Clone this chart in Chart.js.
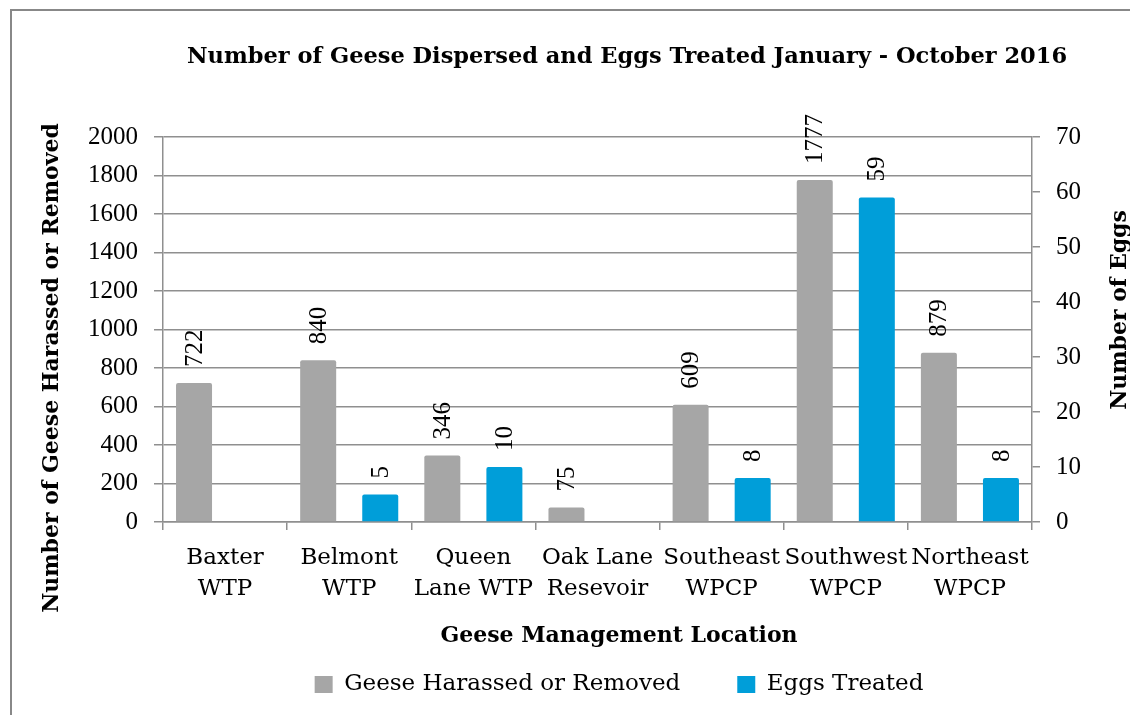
<!DOCTYPE html>
<html>
<head>
<meta charset="utf-8">
<script src="https://cdn.jsdelivr.net/npm/chart.js@4.4.1/dist/chart.umd.min.js"></script>
<style>
  html, body { margin:0; padding:0; background:#fff; }
  #wrap { position:relative; width:1130px; height:715px; overflow:hidden; }
  #frame { position:absolute; left:10px; top:9px; width:1200px; height:800px; border-top:2px solid #888; border-left:2px solid #888; }
  canvas { position:absolute; left:0; top:0; }
</style>
</head>
<body>
<div id="wrap">
  <div id="frame"></div>
  <canvas id="geeseChart" width="1130" height="715"></canvas>
</div>
<script>
const locations = [['Baxter','WTP'],['Belmont','WTP'],['Queen','Lane WTP'],['Oak Lane','Resevoir'],['Southeast','WPCP'],['Southwest','WPCP'],['Northeast','WPCP']];
const geeseHarassed = [722, 840, 346, 75, 609, 1777, 879];
const eggsTreated = [0, 5, 10, 0, 8, 59, 8];
const geeseTicks = { min:0, max:2000, step:200 };
const eggTicks = { min:0, max:70, step:10 };

const NUMFONT = '"Liberation Serif", "Times New Roman", serif';
const WORDFONT = '"DejaVu Serif", "Liberation Serif", serif';
const GRID = '#8f8f8f';

// titles + rotated value labels, drawn on the chart canvas
const extras = {
  id:'extras',
  afterDatasetsDraw(chart) {
    const ctx = chart.ctx;
    ctx.save();
    ctx.fillStyle = '#000';
    ctx.font = '25px ' + NUMFONT;
    ctx.textAlign = 'left'; ctx.textBaseline = 'middle';
    chart.data.datasets.forEach((ds, di) => {
      chart.getDatasetMeta(di).data.forEach((bar, i) => {
        const v = ds.data[i]; if (!v) return;
        ctx.save();
        ctx.translate(bar.x, bar.y - 16);
        ctx.rotate(-Math.PI/2);
        ctx.fillText(String(v), 0, 1);
        ctx.restore();
      });
    });
    ctx.restore();
  },
  afterDraw(chart) {
    const ctx = chart.ctx;
    ctx.save();
    ctx.fillStyle = '#000';
    ctx.textAlign = 'center'; ctx.textBaseline = 'middle';
    ctx.font = 'bold 22.5px ' + WORDFONT;
    ctx.fillText('Number of Geese Dispersed and Eggs Treated January - October 2016', 627, 57);
    ctx.font = 'bold 22px ' + WORDFONT;
    ctx.fillText('Geese Management Location', 619, 636);
    ctx.save(); ctx.translate(52, 368); ctx.rotate(-Math.PI/2);
    ctx.fillText('Number of Geese Harassed or Removed', 0, 0); ctx.restore();
    ctx.save(); ctx.translate(1120, 310); ctx.rotate(-Math.PI/2);
    ctx.fillText('Number of Eggs', 0, 0); ctx.restore();
    ctx.restore();
  }
};

new Chart(document.getElementById('geeseChart').getContext('2d'), {
  type:'bar',
  data:{
    labels: locations,
    datasets:[
      { label:'Geese Harassed or Removed', data:geeseHarassed, backgroundColor:'#a6a6a6', yAxisID:'y', borderRadius:2, categoryPercentage:1.0, barPercentage:0.58 },
      { label:'Eggs Treated', data:eggsTreated, backgroundColor:'#009ed9', yAxisID:'y2', borderRadius:2, categoryPercentage:1.0, barPercentage:0.58 }
    ]
  },
  options:{
    responsive:false, animation:false,
    // negative right padding shifts the centred legend to where the original sits
    layout:{ padding:{ left:0, right:-108, top:137, bottom:9 } },
    plugins:{
      title:{ display:false }, tooltip:{ enabled:false },
      legend:{ position:'bottom', labels:{ color:'#000', font:{ family:WORDFONT, size:23 }, boxWidth:18, boxHeight:17, padding:57 } }
    },
    scales:{
      x:{
        grid:{ display:true, drawOnChartArea:false, color:GRID, lineWidth:1.5, tickLength:8, offset:true },
        border:{ color:GRID, width:1.5 },
        ticks:{ color:'#000', font:{ family:WORDFONT, size:23, lineHeight:1.33 }, padding:13, maxRotation:0, autoSkip:false },
        afterFit(s){ s.height = 94; }
      },
      y:{
        position:'left', min:geeseTicks.min, max:geeseTicks.max,
        grid:{ color:GRID, lineWidth:1.5, tickLength:9 },
        border:{ color:GRID, width:1.5 },
        ticks:{ stepSize:geeseTicks.step, color:'#000', font:{ family:NUMFONT, size:25 }, padding:16, callback:v => String(v) },
        afterFit(s){ s.width = 163; }
      },
      y2:{
        position:'right', min:eggTicks.min, max:eggTicks.max,
        grid:{ drawOnChartArea:false, color:GRID, lineWidth:1.5, tickLength:8 },
        border:{ color:GRID, width:1.5 },
        ticks:{ stepSize:eggTicks.step, color:'#000', font:{ family:NUMFONT, size:25 }, padding:16, callback:v => String(v) },
        afterFit(s){ s.width = 206; }
      }
    }
  },
  plugins:[extras]
});
</script>
</body>
</html>
